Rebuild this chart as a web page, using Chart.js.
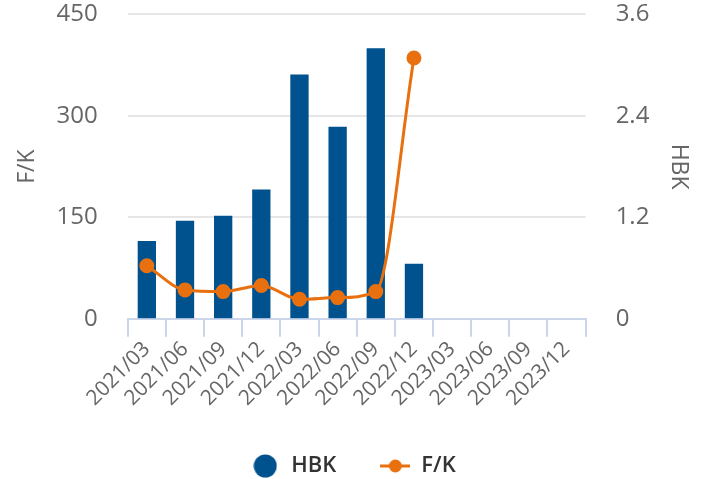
<!DOCTYPE html>
<html>
<head>
<meta charset="utf-8">
<script src="https://cdn.jsdelivr.net/npm/chart.js@4"></script>
<style>
  html, body { margin: 0; padding: 0; background: #fff; }
  #wrap { width: 717px; height: 479px; }
</style>
</head>
<body>
<div id="wrap"><canvas id="myGraph" width="717" height="479"></canvas></div>
<script>
// Quarters on the x axis
var quarters = ['2021/03', '2021/06', '2021/09', '2021/12', '2022/03', '2022/06',
                '2022/09', '2022/12', '2023/03', '2023/06', '2023/09', '2023/12'];

// HBK (bars, right axis)
var hbk = [0.92, 1.16, 1.22, 1.53, 2.89, 2.27, 3.2, 0.65, null, null, null, null];

// F/K (line, left axis)
var fk = [78.5, 42.7, 40.2, 49.2, 28.8, 31.3, 40.2, 385.5, null, null, null, null];

// Tick values
var fkTicks = [0, 150, 300, 450];
var hbkTicks = [0, 1.2, 2.4, 3.6];

var blue = '#00528f';
var orange = '#e8700f';
var grey = '#666666';
var font = '"Open Sans", sans-serif';

// Legend markers
var makeCircle = () => {
    var c = document.createElement('canvas');
    c.width = 24; c.height = 24;
    var g = c.getContext('2d');
    g.fillStyle = blue;
    g.beginPath();
    g.arc(12, 12, 11.5, 0, Math.PI * 2);
    g.fill();
    return c;
};
var makeLineDot = () => {
    var c = document.createElement('canvas');
    c.width = 30; c.height = 14;
    var g = c.getContext('2d');
    g.strokeStyle = orange;
    g.lineWidth = 3;
    g.beginPath();
    g.moveTo(0, 7); g.lineTo(30, 7);
    g.stroke();
    g.fillStyle = orange;
    g.beginPath();
    g.arc(15, 7, 6.5, 0, Math.PI * 2);
    g.fill();
    return c;
};
var circleMark = makeCircle();
var lineMark = makeLineDot();

// Shared y axis look: invisible ticks make the gap between labels and plot
var yTicks = { color: grey, padding: 0, font: { family: font, size: 24 } };
var yTitle = (text) => ({
    display: true, text: text, color: grey,
    font: { family: font, size: 23 },
    padding: { top: 11, bottom: 15 }
});

var ctx = document.getElementById('myGraph').getContext('2d');

var chart = new Chart(ctx, {
    data: {
        labels: quarters,
        datasets: [
            {
                type: 'bar',
                label: 'HBK',
                data: hbk,
                yAxisID: 'yHBK',
                backgroundColor: blue,
                barPercentage: 0.48,
                categoryPercentage: 1,
                order: 2
            },
            {
                type: 'line',
                label: 'F/K',
                data: fk,
                yAxisID: 'yFK',
                borderColor: orange,
                backgroundColor: orange,
                borderWidth: 3,
                pointRadius: 6,
                pointHoverRadius: 6,
                cubicInterpolationMode: 'monotone',
                fill: false,
                order: 1
            }
        ]
    },
    options: {
        responsive: false,
        animation: false,
        layout: { padding: { top: 0, left: 3, right: 14, bottom: -8 } },
        plugins: {
            tooltip: { enabled: false },
            legend: {
                position: 'bottom',
                labels: {
                    usePointStyle: true,
                    pointStyleWidth: 30,
                    padding: 44,
                    color: '#333333',
                    font: { family: font, size: 22, weight: '600' },
                    generateLabels: () => [
                        { text: 'HBK', pointStyle: circleMark, datasetIndex: 0, fontColor: '#333333' },
                        { text: 'F/K', pointStyle: lineMark, datasetIndex: 1, fontColor: '#333333' }
                    ]
                }
            }
        },
        scales: {
            x: {
                grid: {
                    offset: true,
                    drawOnChartArea: false,
                    color: '#ccd6eb',
                    lineWidth: 2,
                    tickLength: 18
                },
                border: { color: '#ccd6eb', width: 2 },
                ticks: {
                    color: grey,
                    autoSkip: false,
                    maxRotation: 45,
                    minRotation: 45,
                    padding: 0,
                    font: { family: font, size: 21 }
                }
            },
            yFK: {
                position: 'left',
                min: 0,
                max: 450,
                afterBuildTicks: (axis) => { axis.ticks = fkTicks.map(v => ({ value: v })); },
                grid: { color: '#e6e6e6', lineWidth: 2, tickLength: 30, tickColor: 'rgba(0,0,0,0)' },
                border: { display: false },
                ticks: yTicks,
                title: yTitle('F/K')
            },
            yHBK: {
                position: 'right',
                min: 0,
                max: 3.6,
                afterBuildTicks: (axis) => { axis.ticks = hbkTicks.map(v => ({ value: v })); },
                grid: { drawOnChartArea: false, tickLength: 30, tickColor: 'rgba(0,0,0,0)' },
                border: { display: false },
                ticks: yTicks,
                title: yTitle('HBK')
            }
        }
    }
});
</script>
</body>
</html>
